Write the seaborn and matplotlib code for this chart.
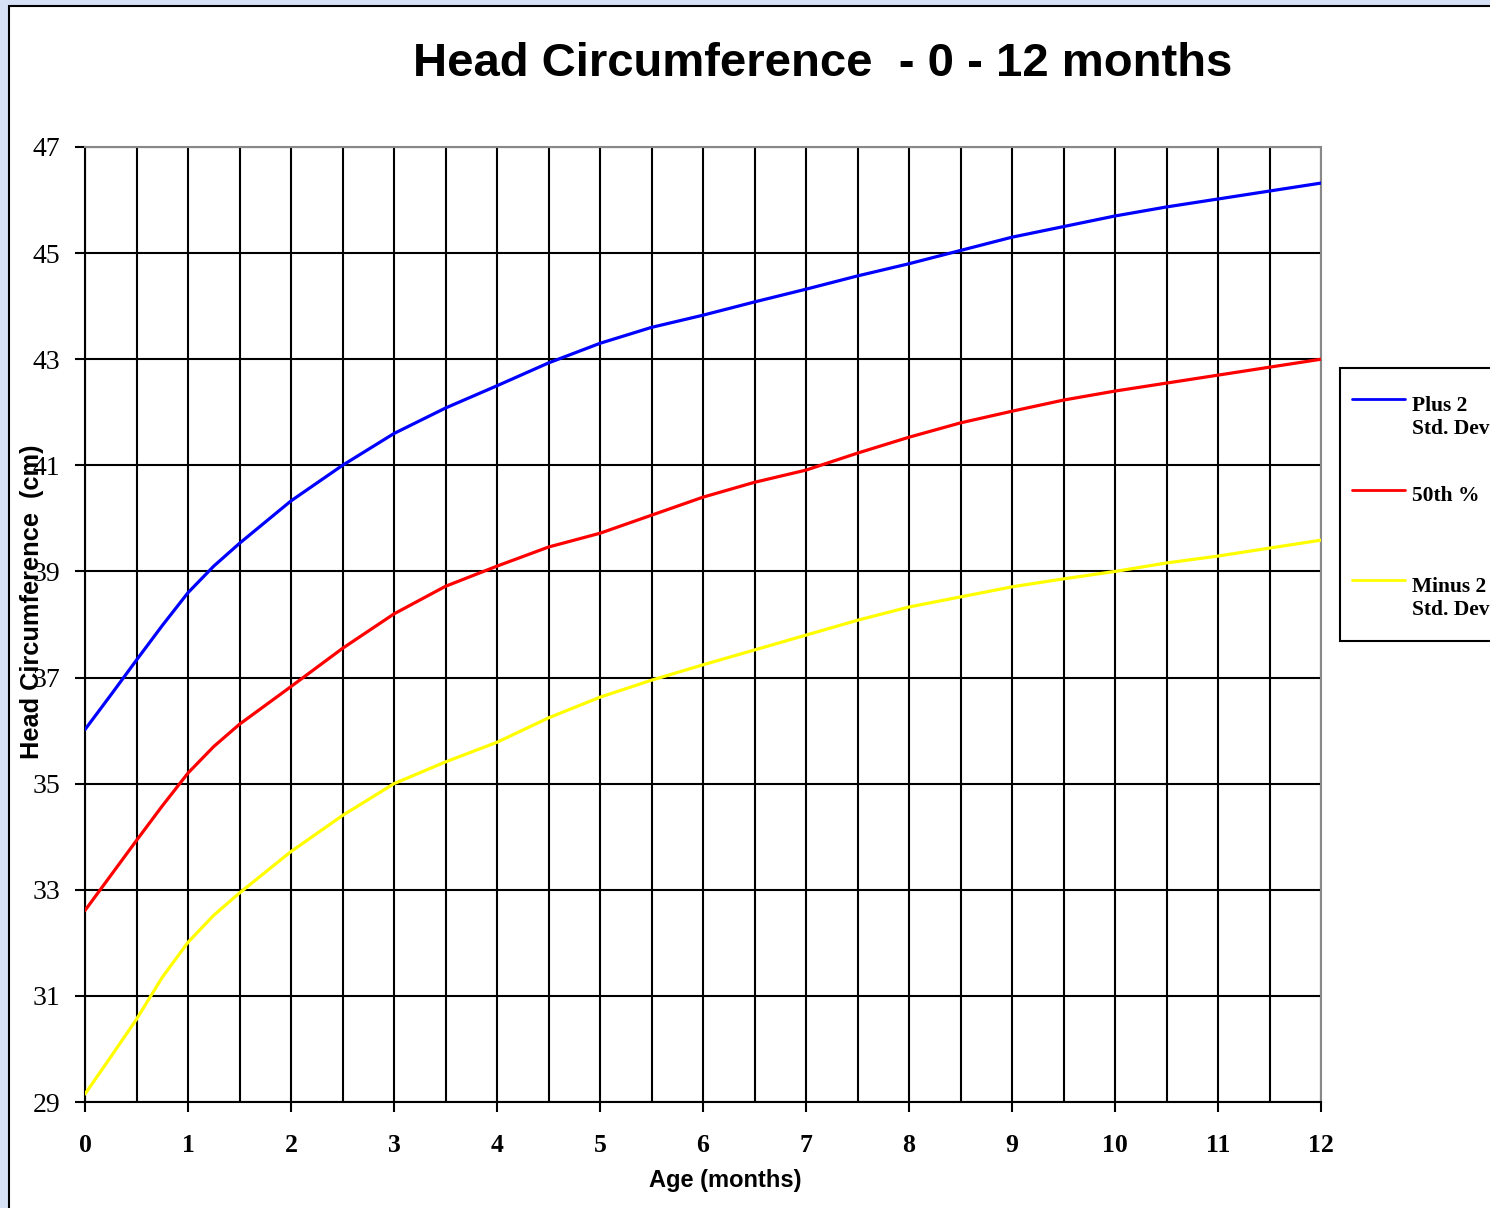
import numpy as np
import pandas as pd
import matplotlib
matplotlib.use('Agg')
import matplotlib.pyplot as plt
import seaborn as sns
from matplotlib.patches import Rectangle
from matplotlib.legend_handler import HandlerLine2D

# データ (月齢 0〜12)
age = [0, 0.25, 0.5, 0.75, 1, 1.25, 1.5, 2, 2.5, 3, 3.5, 4, 4.5, 5, 5.5, 6, 6.5, 7, 7.5, 8, 8.5,
       9, 9.5, 10, 10.5, 11, 11.5, 12]
plus2 = [36.02, 36.67, 37.33, 37.98, 38.6, 39.1, 39.53, 40.33, 41.0, 41.6, 42.08, 42.5, 42.93, 43.3, 43.6,
         43.83, 44.08, 44.32, 44.57, 44.8, 45.05, 45.3, 45.5, 45.7, 45.87, 46.02, 46.17, 46.32]
p50 = [32.61, 33.27, 33.93, 34.58, 35.2, 35.7, 36.12, 36.83, 37.55, 38.2, 38.72, 39.1, 39.46, 39.72, 40.06,
       40.4, 40.68, 40.91, 41.23, 41.53, 41.8, 42.02, 42.23, 42.4, 42.55, 42.7, 42.85, 43.0]
minus2 = [29.15, 29.85, 30.56, 31.35, 32.01, 32.52, 32.94, 33.72, 34.4, 35.0, 35.41, 35.78, 36.24, 36.63, 36.95,
          37.24, 37.52, 37.8, 38.08, 38.33, 38.52, 38.71, 38.86, 39.0, 39.16, 39.29, 39.44, 39.59]
series_names = ['Plus 2\nStd. Dev', '50th %', 'Minus 2\nStd. Dev']
legend_labels = ['Plus 2\nStd. Dev', '50th %\n', 'Minus 2\nStd. Dev']
series_colors = ['#0000FF', '#FF0000', '#FFFF00']

n = len(age)
df = pd.DataFrame({
    'age': age * 3,
    'hc': plus2 + p50 + minus2,
    'series': [series_names[0]] * n + [series_names[1]] * n + [series_names[2]] * n,
})

sns.set_style('white')
plt.rcParams['text.color'] = 'black'
plt.rcParams['xtick.color'] = 'black'
plt.rcParams['ytick.color'] = 'black'

fig = plt.figure(figsize=(14.9, 12.08), dpi=100)
fig.patch.set_facecolor('#D6E1F5')
# 白い枠
fig.patches.append(Rectangle((9 / 1490, -0.1), 1.2, 1.1 - 6 / 1208, transform=fig.transFigure,
                             facecolor='white', edgecolor='black', linewidth=1.5, zorder=-5))

ax = fig.add_axes([85 / 1490, 1 - 1102 / 1208, (1321 - 85) / 1490, (1102 - 147) / 1208])
ax.set_facecolor('white')

sns.lineplot(data=df, x='age', y='hc', hue='series', hue_order=series_names,
             palette=series_colors, linewidth=2.3, ax=ax, legend=False, zorder=3)

ax.set_xlim(0, 12)
ax.set_ylim(29, 47)
ax.set_xticks(range(0, 13))
ax.set_xticks(np.arange(0, 12.5, 0.5), minor=True)
ax.set_yticks(range(29, 48, 2))
ax.grid(True, which='both', color='black', linewidth=1.5)
ax.set_axisbelow(True)
ax.tick_params(axis='x', which='major', direction='out', length=7, width=1.5, pad=16, bottom=True)
ax.tick_params(axis='x', which='minor', length=0)
ax.tick_params(axis='y', direction='out', length=7, width=1.5, pad=11, left=True)
for lab in ax.get_xticklabels():
    lab.set_fontfamily('Liberation Serif')
    lab.set_fontweight('bold')
    lab.set_fontsize(18.5)
for lab in ax.get_yticklabels():
    lab.set_fontfamily('Liberation Serif')
    lab.set_fontsize(20)
for s in ['left', 'bottom']:
    ax.spines[s].set_color('black')
    ax.spines[s].set_linewidth(1.5)
for s in ['top', 'right']:
    ax.spines[s].set_color('#888888')
    ax.spines[s].set_linewidth(1.5)
ax.set_xlabel('')
ax.set_ylabel('')

fig.text(823 / 1490, 1 - 64 / 1208, 'Head Circumference  - 0 - 12 months', ha='center', va='center',
         fontsize=34, fontweight='bold', family='Liberation Sans')
fig.text(725 / 1490, 1 - 1181 / 1208, 'Age (months)', ha='center', va='center',
         fontsize=17, fontweight='bold', family='Liberation Sans')
fig.text(32 / 1490, 1 - 602 / 1208, 'Head Circumference  (cm)', ha='center', va='center',
         rotation=90, fontsize=18.3, fontweight='bold', family='Liberation Sans', zorder=5)


# 凡例の線を1行目の高さに合わせる
class TopLine(HandlerLine2D):
    def create_artists(self, legend, orig_handle, xdescent, ydescent, width, height, fontsize, trans):
        arts = super().create_artists(legend, orig_handle, xdescent, ydescent, width, height, fontsize, trans)
        for a in arts:
            a.set_ydata(np.asarray(a.get_ydata()) + 0.85 * fontsize)
        return arts


# 凡例の枠
fig.patches.append(Rectangle((1340 / 1490, 1 - 641 / 1208), 0.3, (641 - 368) / 1208,
                             transform=fig.transFigure, facecolor='white', edgecolor='black',
                             linewidth=1.5, zorder=1))
handles = [plt.Line2D([], [], color=c, linewidth=2) for c in series_colors]
leg = fig.legend(handles, legend_labels, loc='upper left',
                 bbox_to_anchor=(1352 / 1490, 1 - 396 / 1208),
                 prop={'family': 'Liberation Serif', 'weight': 'bold', 'size': 15.5},
                 frameon=False, labelspacing=2.2, handlelength=2.45, handletextpad=0.33,
                 borderpad=0, borderaxespad=0, handler_map={plt.Line2D: TopLine()})

fig.savefig('out.png', dpi=100, facecolor=fig.get_facecolor())
